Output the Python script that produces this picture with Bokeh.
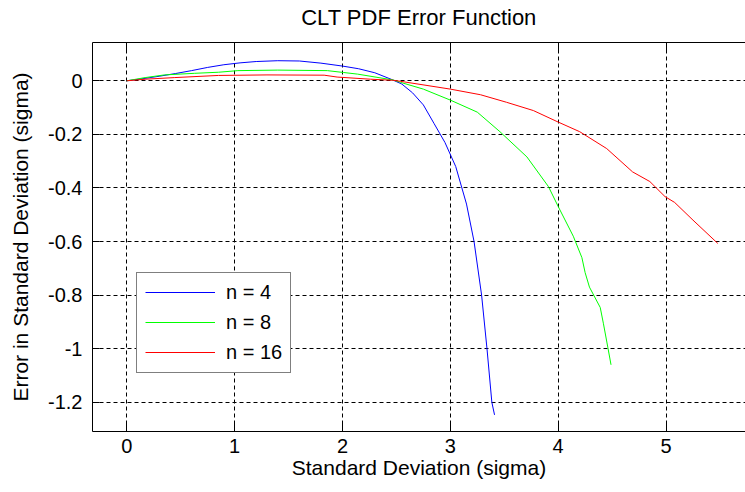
from bokeh.plotting import figure
from bokeh.models import LinearAxis, FixedTicker, Legend, LegendItem, Range1d
from bokeh.embed import file_html
from bokeh.resources import INLINE

# Error curves of the CLT approximation for sums of n uniform variables
x_n4 = [0, 0.15, 0.3, 0.45, 0.6, 0.75, 0.9, 1.05, 1.2, 1.4, 1.6, 1.8, 2.0, 2.15, 2.3,
        2.45, 2.55, 2.65, 2.75, 2.85, 2.95, 3.05, 3.15, 3.22, 3.29, 3.34, 3.385, 3.41]
y_n4 = [0, 0.008, 0.017, 0.027, 0.038, 0.05, 0.06, 0.067, 0.072, 0.075, 0.074, 0.066,
        0.055, 0.045, 0.03, 0.006, -0.012, -0.045, -0.09, -0.16, -0.23, -0.32, -0.46,
        -0.6, -0.8, -1.0, -1.2, -1.247]

x_n8 = [0, 0.17, 0.35, 0.63, 0.85, 1.03, 1.4, 1.86, 2.01, 2.14, 2.32, 2.47, 2.54, 2.75,
        3.0, 3.25, 3.46, 3.71, 3.91, 4.0, 4.14, 4.22, 4.25, 4.29, 4.39, 4.42, 4.46, 4.49]
y_n8 = [0, 0.012, 0.022, 0.028, 0.032, 0.038, 0.04, 0.038, 0.031, 0.025, 0.013, 0.003,
        -0.006, -0.031, -0.072, -0.117, -0.19, -0.284, -0.395, -0.469, -0.58, -0.66,
        -0.716, -0.77, -0.846, -0.907, -0.994, -1.06]

x_n16 = [0, 0.17, 0.44, 0.85, 1.3, 1.83, 1.95, 2.26, 2.47, 2.54, 3.0, 3.28, 3.52, 3.77,
         4.0, 4.2, 4.45, 4.69, 4.85, 4.99, 5.08, 5.25, 5.48]
y_n16 = [0, 0.006, 0.012, 0.02, 0.022, 0.021, 0.014, 0.006, 0.002, -0.002, -0.031,
         -0.052, -0.08, -0.111, -0.154, -0.19, -0.253, -0.34, -0.376, -0.432, -0.454,
         -0.52, -0.607]

x_ticks = [0, 1, 2, 3, 4, 5]
y_ticks = [0, -0.2, -0.4, -0.6, -0.8, -1, -1.2]
y_tick_labels = ["0", "-0.2", "-0.4", "-0.6", "-0.8", "-1", "-1.2"]

FONT = "Liberation Sans"
FS = "20px"
FS_BIG = "21px"

p = figure(width=745, height=492, output_backend="svg", toolbar_location=None,
           x_range=Range1d(-0.318, 5.737), y_range=Range1d(-1.309, 0.143),
           min_border_left=92, min_border_right=0, min_border_top=42,
           min_border_bottom=61, x_axis_location="below", y_axis_location="left")

p.outline_line_color = None
p.background_fill_color = "white"
p.border_fill_color = "white"

# Dashed black grid at every tick
for g in (p.xgrid, p.ygrid):
    g.grid_line_color = "black"
    g.grid_line_dash = "4 3"
    g.grid_line_width = 1

p.xaxis.ticker = FixedTicker(ticks=x_ticks)
p.yaxis.ticker = FixedTicker(ticks=y_ticks)
p.yaxis.major_label_overrides = {v: s for v, s in zip(y_ticks, y_tick_labels)}

p.xaxis.axis_label = "Standard Deviation (sigma)"
p.yaxis.axis_label = "Error in Standard Deviation (sigma)"

for ax in (p.xaxis[0], p.yaxis[0]):
    ax.axis_line_color = "black"
    ax.major_tick_line_color = "black"
    ax.major_tick_out = 0
    ax.minor_tick_line_color = None
    ax.major_label_text_font = FONT
    ax.major_label_text_font_size = FS
    ax.major_label_text_color = "black"
    ax.axis_label_text_font = FONT
    ax.axis_label_text_font_size = FS_BIG
    ax.axis_label_text_font_style = "normal"
    ax.axis_label_text_color = "black"

p.xaxis.major_tick_in = 9
p.xaxis.major_label_standoff = 7
p.xaxis.axis_label_standoff = 0
p.yaxis.major_tick_in = 7
p.yaxis.major_label_standoff = 10
p.yaxis.axis_label_standoff = 13

# Top border with inward ticks; its label carries the chart title
top = LinearAxis(ticker=FixedTicker(ticks=x_ticks), major_tick_in=9, major_tick_out=0,
                 minor_tick_line_color=None, axis_line_color="black",
                 major_tick_line_color="black",
                 major_label_overrides={t: "" for t in x_ticks},
                 major_label_standoff=0,
                 axis_label="CLT PDF Error Function", axis_label_text_font=FONT,
                 axis_label_text_font_size="22px", axis_label_text_font_style="normal",
                 axis_label_text_color="black", axis_label_standoff=13)
p.add_layout(top, "above")

r4 = p.line(x_n4, y_n4, line_color="#0000ff", line_width=1)
r8 = p.line(x_n8, y_n8, line_color="#00ff00", line_width=1)
r16 = p.line(x_n16, y_n16, line_color="#ff0000", line_width=1)

legend = Legend(items=[LegendItem(label="n = 4", renderers=[r4]),
                       LegendItem(label="n = 8", renderers=[r8]),
                       LegendItem(label="n = 16", renderers=[r16])],
                location=(44, 58.5), orientation="vertical",
                border_line_color="black", border_line_width=1,
                background_fill_color="white", background_fill_alpha=1,
                label_text_font=FONT, label_text_font_size=FS, label_text_color="black",
                glyph_width=70, glyph_height=20, label_height=20, label_standoff=11,
                spacing=7, padding=8, margin=0)
p.add_layout(legend, "center")

open("out.html", "w").write(file_html(p, INLINE))
